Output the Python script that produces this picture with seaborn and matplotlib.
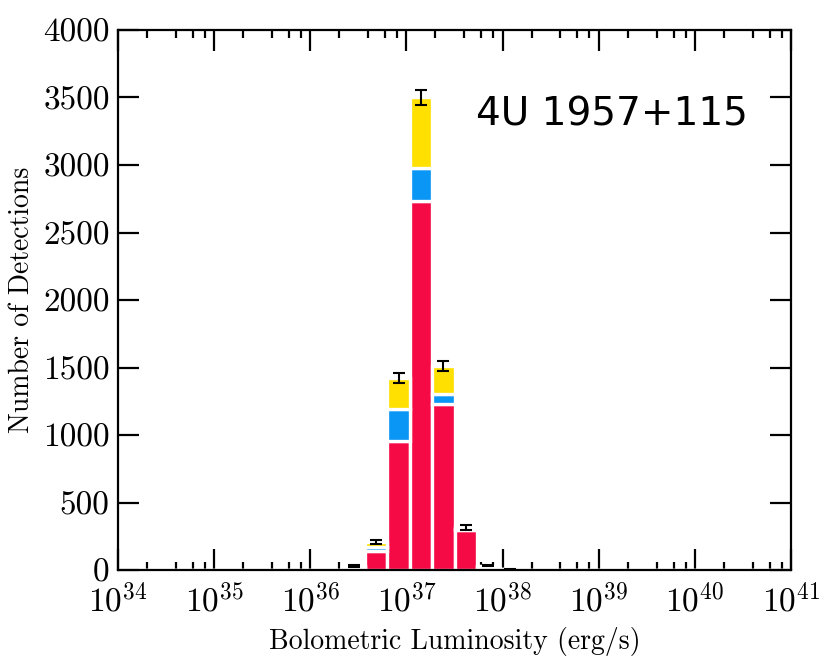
import numpy as np
import pandas as pd
import matplotlib
matplotlib.use("Agg")
import matplotlib.pyplot as plt
import matplotlib.ticker as mticker
import seaborn as sns

# ==================================================
# DATA
# ==================================================

# log10 of the bin centres in erg/s (30 bins of 7/30 dex from 1e34 to 1e41)
log_lum = [36.45, 36.68, 36.92, 37.15, 37.38, 37.62, 37.85, 38.08]
red_counts = [18, 140, 953, 2730, 1232, 295, 22, 4]
blue_counts = [6, 30, 238, 248, 70, 8, 5, 0]
yellow_counts = [6, 35, 229, 522, 210, 12, 6, 1]
count_err = [5.5, 14, 38, 59, 39, 18, 6, 2.2]

source_name = "4U 1957+115"
y_ticks = [0, 500, 1000, 1500, 2000, 2500, 3000, 3500, 4000]
x_decades = [34, 35, 36, 37, 38, 39, 40, 41]

colors = {"yellow": "#FFE000", "blue": "#0A96F5", "red": "#F50A46"}

# ==================================================
# STYLE
# ==================================================

sns.set_style("ticks")
plt.rcParams["mathtext.fontset"] = "cm"
plt.rcParams["font.family"] = ["DejaVu Sans"]
plt.rcParams["axes.linewidth"] = 1.6
plt.rcParams["text.color"] = "black"
plt.rcParams["axes.labelcolor"] = "black"
plt.rcParams["xtick.color"] = "black"
plt.rcParams["ytick.color"] = "black"

# ==================================================
# BUILD TABLE
# ==================================================

lum = 10 ** np.array(log_lum)
rows = []
for name, vals in [("yellow", yellow_counts), ("blue", blue_counts), ("red", red_counts)]:
    for x, c in zip(lum, vals):
        rows.append({"lum": x, "count": c, "state": name})
df = pd.DataFrame(rows)

total = np.array(red_counts) + np.array(blue_counts) + np.array(yellow_counts)

# ==================================================
# PLOT
# ==================================================

fig = plt.figure(figsize=(8.3, 6.65), dpi=100)
ax = fig.add_axes([118 / 830, 1 - 570 / 665, 673 / 830, 540 / 665])

sns.histplot(
    data=df,
    x="lum",
    weights="count",
    hue="state",
    hue_order=["yellow", "blue", "red"],
    palette=colors,
    multiple="stack",
    bins=30,
    binrange=(34, 41),
    log_scale=True,
    element="bars",
    alpha=1,
    edgecolor="white",
    linewidth=2.4,
    legend=False,
    ax=ax
)

ax.errorbar(
    lum, total, yerr=count_err,
    fmt="none", ecolor="black", elinewidth=1.5,
    capsize=4.5, capthick=1.5, zorder=5
)

ax.set_xlim(1e34, 1e41)
ax.set_ylim(0, 4000)

ax.xaxis.set_major_locator(mticker.FixedLocator([10.0 ** d for d in x_decades]))
ax.xaxis.set_major_formatter(mticker.FixedFormatter([rf"$10^{{{d}}}$" for d in x_decades]))
ax.xaxis.set_minor_locator(mticker.LogLocator(base=10, subs=[2, 4, 6, 8], numticks=50))
ax.xaxis.set_minor_formatter(mticker.NullFormatter())

ax.set_yticks(y_ticks)
ax.set_yticklabels([str(v) for v in y_ticks])

ax.tick_params(axis="both", which="major", direction="in", top=True, right=True,
               length=15, width=1.6, color="black", labelcolor="black")
ax.tick_params(axis="both", which="minor", direction="in", top=True, right=True,
               length=6, width=1.6, color="black")
ax.tick_params(axis="x", which="major", pad=10, labelsize=24)
ax.tick_params(axis="y", which="major", pad=6)
for lab in ax.get_yticklabels():
    lab.set_fontfamily("cmr10")
    lab.set_fontsize(24)

for s in ax.spines.values():
    s.set_color("black")
    s.set_linewidth(1.6)

ax.set_xlabel("Bolometric Luminosity (erg/s)", fontfamily="cmr10", fontsize=20,
              labelpad=6, color="black")
ax.set_ylabel("Number of Detections", fontfamily="cmr10", fontsize=20,
              labelpad=6, color="black")

ax.text(0.532, 0.824, source_name, transform=ax.transAxes,
        fontsize=28, ha="left", va="baseline", color="black")

fig.savefig("out.png", dpi=100)
